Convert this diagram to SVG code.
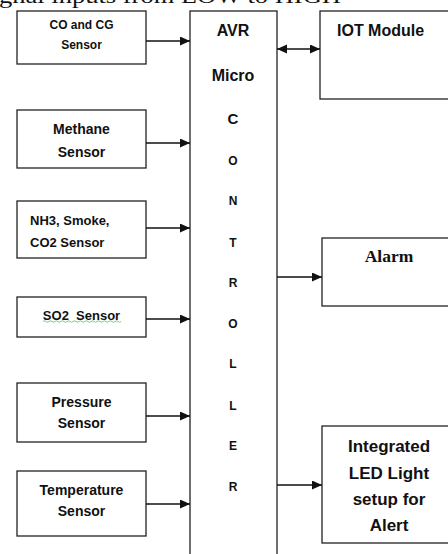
<svg xmlns="http://www.w3.org/2000/svg" width="448" height="554" viewBox="0 0 448 554">
<style>
.box{fill:#fff;stroke:#222;stroke-width:1.3}
.t{font-family:"Liberation Sans",Arial,sans-serif;font-weight:bold;fill:#111;text-anchor:middle;dominant-baseline:central}
.l{text-anchor:start}
.s{font-size:14px}
.c{font-size:12px}
.ln{stroke:#111;stroke-width:1.3;fill:none}
.pre{white-space:pre}
</style>
<defs>
<marker id="ah" markerUnits="userSpaceOnUse" markerWidth="11" markerHeight="10" refX="10" refY="4.5" orient="auto-start-reverse">
<path d="M0,0 L10,4.5 L0,9 z" fill="#111"/>
</marker>
</defs>
<rect width="448" height="554" fill="#fff"/>
<text x="-1" y="3" font-family="Liberation Serif,Times New Roman,serif" font-size="22" fill="#111" textLength="342" lengthAdjust="spacingAndGlyphs">gnal inputs from LOW to HIGH</text>

<g id="co">
<rect class="box" x="17" y="11" width="129" height="53"/>
<text class="t" x="81.5" y="25" font-size="12">CO and CG</text>
<text class="t" x="81.5" y="45" font-size="12">Sensor</text>
</g>
<g id="methane">
<rect class="box" x="17" y="110" width="129" height="58"/>
<text class="t s" x="81.5" y="129">Methane</text>
<text class="t s" x="81.5" y="152">Sensor</text>
</g>
<g id="nh3">
<rect class="box" x="17" y="201" width="129" height="57"/>
<text class="t l" x="30" y="220" font-size="13">NH3, Smoke,</text>
<text class="t l" x="30" y="242" font-size="13">CO2 Sensor</text>
</g>
<g id="so2">
<rect class="box" x="17" y="297" width="129" height="40"/>
<text class="t pre" x="81.5" y="315" font-size="13">SO2  Sensor</text>
<path d="M43,321.5 q1.5,-1.5 3,0 t3,0 t3,0 t3,0 t3,0 t3,0 t3,0 t3,0 t3,0 t3,0 t3,0 t3,0 t3,0 t3,0 t3,0 t3,0 t3,0 t3,0 t3,0 t3,0 t3,0 t3,0 t3,0 t3,0 t3,0 t3,0" fill="none" stroke="#5cb85c" stroke-width="0.8"/>
</g>
<g id="pressure">
<rect class="box" x="17" y="383" width="129" height="59"/>
<text class="t s" x="81.5" y="402">Pressure</text>
<text class="t s" x="81.5" y="423">Sensor</text>
</g>
<g id="temperature">
<rect class="box" x="17" y="471" width="129" height="65"/>
<text class="t s" x="81.5" y="490">Temperature</text>
<text class="t s" x="81.5" y="511">Sensor</text>
</g>

<g id="controller">
<rect class="box" x="190" y="11" width="87" height="560"/>
<text class="t" x="233" y="30" font-size="16">AVR</text>
<text class="t" x="233" y="75" font-size="16">Micro</text>
<text class="t" x="233" y="118" font-size="15">C</text>
<text class="t c" x="233" y="161">O</text>
<text class="t c" x="233" y="201">N</text>
<text class="t c" x="233" y="243">T</text>
<text class="t c" x="233" y="283">R</text>
<text class="t c" x="233" y="324">O</text>
<text class="t c" x="233" y="364">L</text>
<text class="t c" x="233" y="406">L</text>
<text class="t c" x="233" y="446">E</text>
<text class="t c" x="233" y="487">R</text>
</g>

<g id="iot">
<rect class="box" x="320" y="11" width="140" height="88"/>
<text class="t l" x="337" y="30" font-size="16">IOT Module</text>
</g>
<g id="alarm">
<rect class="box" x="322" y="238" width="140" height="68"/>
<text x="389" y="256" font-family="Liberation Serif,Times New Roman,serif" font-weight="bold" font-size="17.5" fill="#111" text-anchor="middle" dominant-baseline="central">Alarm</text>
</g>
<g id="led">
<rect class="box" x="322" y="426" width="140" height="117"/>
<text class="t" x="389" y="446" font-size="17">Integrated</text>
<text class="t" x="389" y="473" font-size="17">LED Light</text>
<text class="t" x="389" y="499" font-size="17">setup for</text>
<text class="t" x="389" y="525" font-size="17">Alert</text>
</g>

<g id="connectors">
<line class="ln" x1="146" y1="41" x2="190" y2="41" marker-end="url(#ah)"/>
<line class="ln" x1="146" y1="143" x2="190" y2="143" marker-end="url(#ah)"/>
<line class="ln" x1="146" y1="228" x2="190" y2="228" marker-end="url(#ah)"/>
<line class="ln" x1="146" y1="319" x2="190" y2="319" marker-end="url(#ah)"/>
<line class="ln" x1="146" y1="416" x2="190" y2="416" marker-end="url(#ah)"/>
<line class="ln" x1="146" y1="504" x2="190" y2="504" marker-end="url(#ah)"/>
<line class="ln" x1="277" y1="49" x2="320" y2="49" marker-start="url(#ah)" marker-end="url(#ah)"/>
<line class="ln" x1="277" y1="277" x2="322" y2="277" marker-end="url(#ah)"/>
<line class="ln" x1="277" y1="485" x2="322" y2="485" marker-end="url(#ah)"/>
</g>
</svg>
